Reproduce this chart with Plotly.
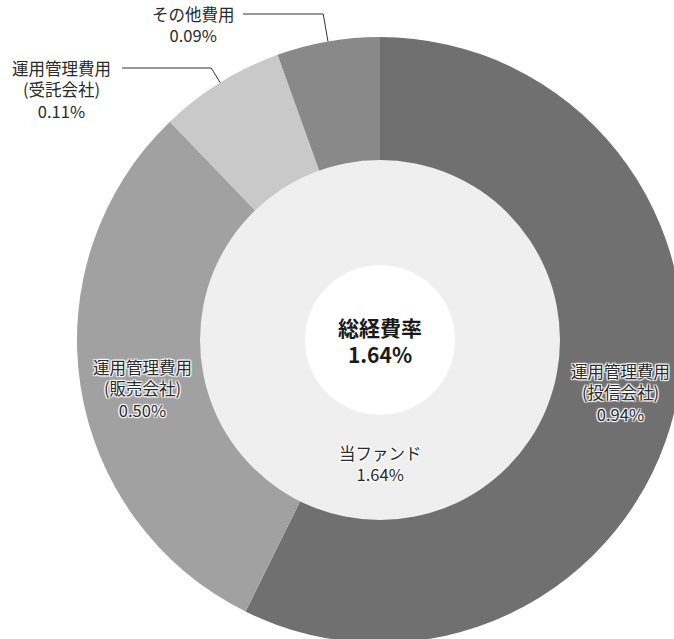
import math
import plotly.graph_objects as go

# ---- data ----
categories = ["運用管理費用(投信会社)", "運用管理費用(販売会社)", "運用管理費用(受託会社)", "その他費用"]
label_lines = [["運用管理費用", "(投信会社)"], ["運用管理費用", "(販売会社)"], ["運用管理費用", "(受託会社)"], ["その他費用"]]
values = [0.94, 0.50, 0.11, 0.09]
total_label = "当ファンド"
total_value = 1.64
center_title = "総経費率"

colors = ["#707070", "#a0a1a0", "#c8c9c8", "#898989"]
inner_color = "#efefef"

# ---- geometry (pixels) ----
W, H = 690, 650
CX, CY = 380, 340
R_OUT, R_MID, R_HOLE = 303, 180, 75
FONT = "Noto Sans CJK JP"
TXT = "#2a2a2a"
FS = 16.5
LH = FS * 1.3
shadow = "1px 1px 1px #fff, -1px -1px 1px #fff, 1px -1px 1px #fff, -1px 1px 1px #fff, 0 0 2px #fff"

fig = go.Figure()

fig.add_trace(go.Pie(
    labels=categories, values=values, sort=False, direction="clockwise", rotation=0,
    hole=0.585, marker=dict(colors=colors, line=dict(width=0)),
    textinfo="none", hoverinfo="label+value", showlegend=False,
    domain=dict(x=[(CX - R_OUT) / W, (CX + R_OUT) / W],
                y=[(H - CY - R_OUT) / H, (H - CY + R_OUT) / H]),
))
fig.add_trace(go.Pie(
    labels=[total_label], values=[total_value], sort=False,
    hole=R_HOLE / R_MID, marker=dict(colors=[inner_color], line=dict(width=0)),
    textinfo="none", hoverinfo="label+value", showlegend=False,
    domain=dict(x=[(CX - R_MID) / W, (CX + R_MID) / W],
                y=[(H - CY - R_MID) / H, (H - CY + R_MID) / H]),
))

annotations = []
shapes = []


def add_label(x, y_center, lines, size=FS, color=TXT, bold=False, sh=None):
    f = dict(family=FONT, size=size, color=color)
    if bold:
        f["weight"] = "bold"
    if sh:
        f["shadow"] = sh
    annotations.append(dict(x=x, y=y_center, xref="x", yref="y", text="<br>".join(lines),
                            showarrow=False, font=f, xanchor="center", yanchor="middle"))


tot = sum(values)
cum = 0
mids = []
for v in values:
    mids.append((cum + v / 2) / tot * 360)
    cum += v

# inside labels
inside_pos = [(620, 392), (142, 388)]
for i in range(2):
    x, y = inside_pos[i]
    add_label(x, y, label_lines[i] + [f"{values[i]:.2f}%"], sh=shadow)

# outside labels with leader lines (first text line at ty)
outside = [(2, 61, 68, 122), (3, 193, 14, 243)]
for idx, tx, ty, lx in outside:
    lines = label_lines[idx] + [f"{values[idx]:.2f}%"]
    add_label(tx, ty + LH * (len(lines) - 1) / 2, lines)
    th = math.radians(mids[idx])
    ex, ey = CX + R_OUT * math.sin(th), CY - R_OUT * math.cos(th)
    rr = (CY - ty) / math.cos(th)
    bx = CX + rr * math.sin(th)
    shapes.append(dict(type="path", xref="x", yref="y",
                       path=f"M {lx},{ty} L {bx:.1f},{ty} L {ex:.1f},{ey:.1f}",
                       line=dict(color="#333333", width=1)))

# inner ring label
add_label(CX, 463, [total_label, f"{total_value:.2f}%"], sh=shadow)
# center title
add_label(CX, 340, [center_title, f"{total_value:.2f}%"], size=21, color="#1a1a1a", bold=True)

fig.update_layout(
    width=W, height=H, margin=dict(l=0, r=0, t=0, b=0),
    paper_bgcolor="white", plot_bgcolor="rgba(0,0,0,0)",
    xaxis=dict(range=[0, W], visible=False, fixedrange=True),
    yaxis=dict(range=[H, 0], visible=False, fixedrange=True),
    annotations=annotations, shapes=shapes, showlegend=False,
)

fig.write_html("out.html", post_script=(
    "document.documentElement.style.overflow='hidden';"
    "document.body.style.overflow='hidden';document.body.style.margin='0';"))
